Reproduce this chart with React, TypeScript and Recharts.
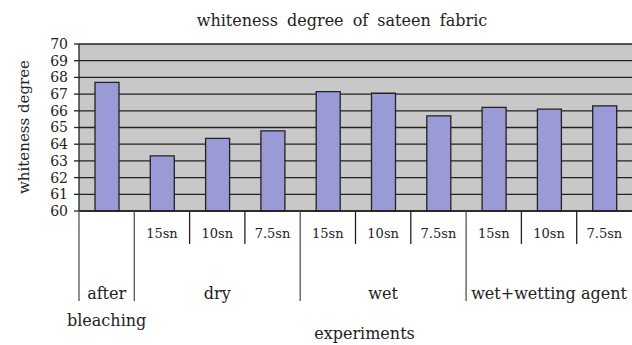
import { BarChart, Bar, XAxis, YAxis, CartesianGrid } from "recharts";

// sub-level category labels (treatment time) and the group each bar belongs to
const subLabels = ["", "15sn", "10sn", "7.5sn", "15sn", "10sn", "7.5sn", "15sn", "10sn", "7.5sn"];
const groupIndex = [0, 1, 1, 1, 2, 2, 2, 3, 3, 3];
const groupLabels = [["after", "bleaching"], ["dry"], ["wet"], ["wet+wetting agent"]];
const whiteness = [67.7, 63.3, 64.35, 64.8, 67.15, 67.05, 65.7, 66.2, 66.1, 66.3];
const yTicks = [60, 61, 62, 63, 64, 65, 66, 67, 68, 69, 70];

const data = whiteness.map((v, i) => ({ key: `c${i}`, sub: subLabels[i], group: groupIndex[i], value: v }));

const serif = "'DejaVu Serif', serif";
const ink = "#222";

function TwoLevelTick(props: any) {
  const { x, y, payload } = props;
  const idx: number = payload.index;
  const half: number = payload.offset || 27.65;
  const g = groupIndex[idx];
  const first = groupIndex.indexOf(g);
  const last = groupIndex.lastIndexOf(g);
  const isGroupStart = first === idx;
  const left = x - half;
  const groupCenter = x + ((first + last) / 2 - idx) * half * 2;
  return (
    <g>
      <line x1={left} x2={left} y1={y} y2={y + (isGroupStart ? 90 : 33)} stroke={isGroupStart ? "#555" : ink} strokeWidth={1.3} />
      {subLabels[idx] && (
        <text x={x} y={y + 27} textAnchor="middle" style={{ fontFamily: serif }} fontSize={13} fill={ink}>
          {subLabels[idx]}
        </text>
      )}
      {isGroupStart &&
        groupLabels[g].map((line, k) => (
          <text key={k} x={groupCenter} y={y + 88 + k * 27} textAnchor="middle" style={{ fontFamily: serif }} fontSize={16} fill={ink}>
            {line}
          </text>
        ))}
    </g>
  );
}

export default function App() {
  return (
    <div style={{ position: "absolute", left: 0, top: 0, width: 632, height: 345, background: "#fff", fontFamily: serif, color: ink }}>
      <div style={{ position: "absolute", left: 0, top: 11, width: 684, textAlign: "center", fontSize: 16, wordSpacing: 4 }}>
        whiteness degree of sateen fabric
      </div>
      <div
        style={{
          position: "absolute", left: 24, top: 127, width: 200, marginLeft: -100, textAlign: "center",
          fontSize: 15, lineHeight: "20px", marginTop: -10, transform: "rotate(-90deg)",
        }}
      >
        whiteness degree
      </div>
      <BarChart width={632} height={345} data={data} margin={{ top: 44, right: 0, left: 0, bottom: 0 }} barSize={24}>
        <CartesianGrid vertical={false} fill="#c8c8c8" stroke={ink} strokeWidth={1.3} fillOpacity={1} />
        <XAxis
          dataKey="key" height={134} interval={0} tickLine={false} tickSize={0} tickMargin={0}
          axisLine={{ stroke: ink, strokeWidth: 1.3 }} tick={<TwoLevelTick />}
          label={{ value: "experiments", position: "insideBottom", offset: 6, dx: 9, fill: ink, style: { fontFamily: serif }, fontSize: 16 }}
        />
        <YAxis
          domain={[60, 70]} ticks={yTicks} interval={0} width={79} tickSize={5} tickMargin={6}
          axisLine={{ stroke: ink, strokeWidth: 1.3 }} tickLine={{ stroke: ink, strokeWidth: 1.3 }}
          tick={{ fill: ink, style: { fontFamily: serif }, fontSize: 14 }}
        />
        <Bar dataKey="value" fill="#9a9ad6" stroke={ink} strokeWidth={1.3} isAnimationActive={false} />
      </BarChart>
    </div>
  );
}
